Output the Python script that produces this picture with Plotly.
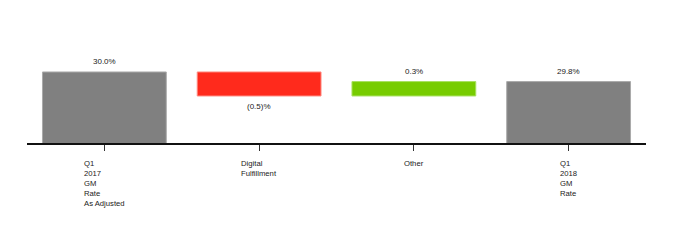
import plotly.graph_objects as go

categories = ["Q1<br>2017<br>GM<br>Rate<br>As Adjusted", "Digital<br>Fulfillment", "Other", "Q1<br>2018<br>GM<br>Rate"]
values = [30.0, -0.5, 0.3, 29.8]
measures = ["absolute", "relative", "relative", "total"]
value_labels = ["30.0%", "(0.5)%", "0.3%", "29.8%"]

xs = list(range(len(categories)))

fig = go.Figure()
fig.add_trace(go.Waterfall(
    x=xs, y=values, measure=measures,
    width=0.8,
    increasing=dict(marker=dict(color="#77CC00", line=dict(color="#A8E060", width=1))),
    decreasing=dict(marker=dict(color="#FF2A1C", line=dict(color="#FF8A80", width=1))),
    totals=dict(marker=dict(color="#808080", line=dict(color="#AAAAAA", width=1))),
    connector=dict(visible=False),
    textinfo="none", hoverinfo="skip",
))

# cumulative positions for labels
level = 0.0
annotations = []
for i, (v, m, lab) in enumerate(zip(values, measures, value_labels)):
    if m == "absolute":
        level = v
    elif m == "relative":
        level = level + v
    shift = -11 if v < 0 else 10
    annotations.append(dict(x=i, y=level, xref="x", yref="y", text=lab, showarrow=False,
                            yshift=shift, font=dict(size=8, color="#222222")))

for i, c in enumerate(categories):
    annotations.append(dict(x=i, y=0, xref="x", yref="paper", text=c, showarrow=False,
                            yanchor="top", yshift=-14, align="left",
                            font=dict(size=7.7, color="#222222")))

fig.update_layout(
    width=680, height=240,
    margin=dict(l=26.5, r=33.5, t=20, b=97),
    paper_bgcolor="white", plot_bgcolor="white",
    showlegend=False,
    font=dict(family="Liberation Sans, Arial, sans-serif", size=8, color="#222222"),
    annotations=annotations,
    xaxis=dict(range=[-0.5, 3.5], showgrid=False, zeroline=False, showline=True,
               linecolor="#111111", linewidth=1.5, ticks="outside", ticklen=6,
               tickcolor="#333333", tickwidth=1, tickvals=xs, showticklabels=False,
               fixedrange=True),
    yaxis=dict(range=[28.52, 31.083], visible=False, fixedrange=True),
)

fig.write_html("out.html")
